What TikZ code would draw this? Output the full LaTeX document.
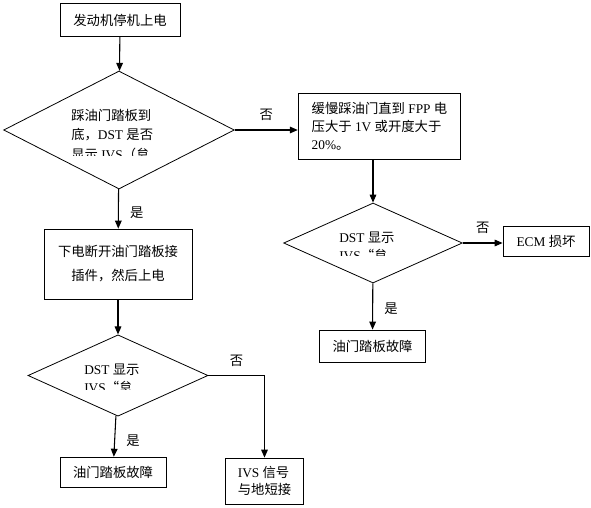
\documentclass[tikz,border=0pt]{standalone}
\usepackage{fontspec}
\setmainfont{Liberation Serif}
\newfontfamily\cjkfont{Noto Sans CJK SC}
\newcommand{\zh}[1]{{\cjkfont #1}}
\usetikzlibrary{arrows.meta, shapes.geometric}

\begin{document}
\begin{tikzpicture}[
  x=0.75pt, y=-0.75pt,
  font=\fontsize{10}{13.5}\selectfont,
  stepbox/.style={
    rectangle, draw, line width=0.6pt,
    inner sep=0pt, align=center
  },
  decision/.style={
    diamond, draw, line width=0.6pt, inner sep=0pt
  },
  dtext/.style={inner sep=0pt, align=left, anchor=north west},
  arr/.style={-{Triangle[length=6pt, width=5pt]}, line width=0.8pt},
  lbl/.style={font=\fontsize{10}{12}\cjkfont},
]

\useasboundingbox (0,0) rectangle (591,507);

%% ════════════════════════════════════════════════
%% LEFT COLUMN
%% ════════════════════════════════════════════════

\node[stepbox, minimum width=90pt, minimum height=24.75pt]
  (start) at (120,20) {\zh{发动机停机上电}};

\node[decision, minimum width=173pt, minimum height=88.5pt]
  (q1) at (119,130) {};
\begin{scope}
  \clip (60,100) rectangle (190,155);
  \node[dtext, font=\fontsize{10}{14.5}\selectfont] (q1txt) at (71,109)
    {\zh{踩油门踏板到}\\\zh{底，}DST \zh{是否}\\\zh{显示} IVS\zh{（怠}};
\end{scope}

\node[stepbox, minimum width=111pt, minimum height=52.5pt,
      font=\fontsize{10}{18}\selectfont]
  (unplug) at (118,264) {\zh{下电断开油门踏板接}\\\zh{插件，然后上电}};

\node[decision, minimum width=135pt, minimum height=61pt]
  (q3) at (118,375.5) {};
\begin{scope}
  \clip (70,355) rectangle (170,389);
  \node[dtext] (q3txt) at (84,364) {DST \zh{显示}\\IVS\zh{“怠}};
\end{scope}

\node[stepbox, minimum width=79.5pt, minimum height=23pt]
  (pedal1) at (113,472.5) {\zh{油门踏板故障}};

\node[stepbox, minimum width=58pt, minimum height=34.5pt, align=left,
      font=\fontsize{10}{13}\selectfont]
  (ivs) at (264.5,481) {IVS \zh{信号}\\\zh{与地短接}};

%% ════════════════════════════════════════════════
%% RIGHT COLUMN
%% ════════════════════════════════════════════════

\node[stepbox, minimum width=122pt, minimum height=50pt, align=left]
  (slow) at (379.5,126.5)
  {\zh{缓慢踩油门直到} FPP \zh{电}\\\zh{压大于} 1V \zh{或开度大于}\\20\%\zh{。}};

\node[decision, minimum width=134pt, minimum height=60pt]
  (q2) at (373,243) {};
\begin{scope}
  \clip (320,225) rectangle (430,255);
  \node[dtext] (q2txt) at (339,232) {DST \zh{显示}\\IVS\zh{“怠}};
\end{scope}

\node[stepbox, minimum width=64.5pt, minimum height=22pt]
  (ecm) at (546,241.5) {ECM \zh{损坏}};

\node[stepbox, minimum width=80pt, minimum height=24pt]
  (pedal2) at (372.5,346) {\zh{油门踏板故障}};

%% ════════════════════════════════════════════════
%% CONNECTIONS
%% ════════════════════════════════════════════════

\draw[arr] (start) -- (q1);
\draw[arr] (q1.east) -- node[lbl, above=3pt]{否} (q1.east -| slow.west);
\draw[arr] (q1) -- node[lbl, right=5pt, pos=0.6]{是} (unplug);
\draw[arr] (unplug) -- (q3);
\draw[arr] (q3) -- node[lbl, right=5pt, pos=0.6]{是} (pedal1);
\draw[arr] (q3.east) -| node[lbl, above=3pt, pos=0.25]{否} (ivs.north);

\draw[arr] (slow.south -| q2) -- (q2);
\draw[arr] (q2.east) -- node[lbl, above=3pt]{否} (q2.east -| ecm.west);
\draw[arr] (q2) -- node[lbl, right=5pt, pos=0.55]{是} (pedal2);

\end{tikzpicture}
\end{document}
